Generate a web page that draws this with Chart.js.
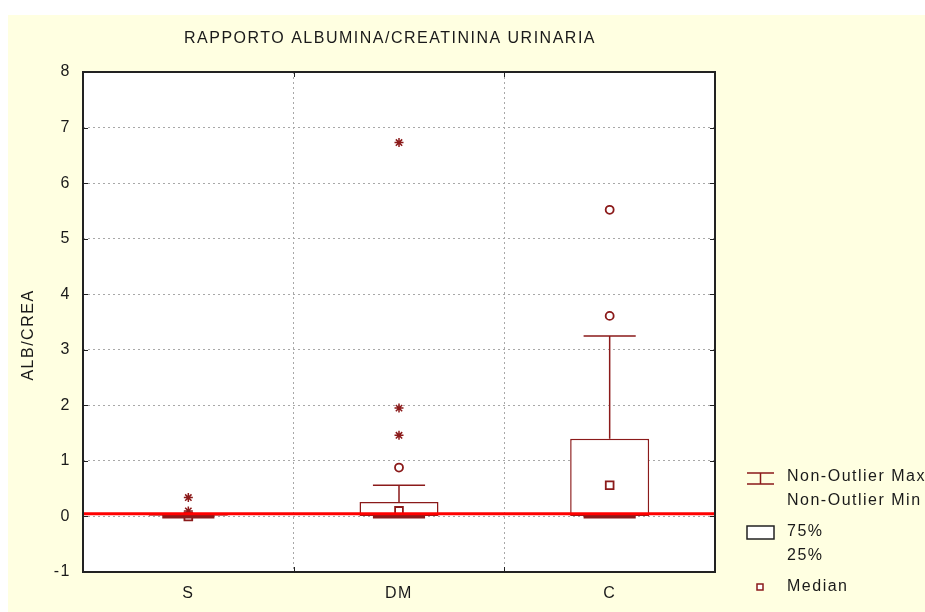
<!DOCTYPE html>
<html><head><meta charset="utf-8">
<script src="https://cdn.jsdelivr.net/npm/chart.js@4/dist/chart.umd.min.js"></script>
<style>html,body{margin:0;padding:0;background:#fff;} #wrap{width:925px;height:612px;}</style>
</head><body><div id="wrap"><canvas id="c" width="925" height="612"></canvas></div>
<script>
// ---- data ----
const chartTitle = 'RAPPORTO ALBUMINA/CREATININA URINARIA';
const yAxisTitle = 'ALB/CREA';
const categories = ['S', 'DM', 'C'];
const boxLow = [0, 0, 0];            // 25%
const boxHigh = [0.02, 0.26, 1.40];  // 75%
const medians = [0.0, 0.10, 0.56];
const whiskerLow = [0, 0, 0];        // non-outlier min
const whiskerHigh = [0.02, 0.56, 3.25]; // non-outlier max
const outlierCat = ['DM', 'C', 'C'];
const outlierVal = [0.88, 3.61, 5.52];
const extremeCat = ['S', 'S', 'DM', 'DM', 'DM'];
const extremeVal = [0.10, 0.34, 1.46, 1.95, 6.73];
const referenceLine = [0.05];
const yMin = -1, yMax = 8, yStep = 1;
const legendMax = 'Non-Outlier Max', legendMin = 'Non-Outlier Min';
const legendQ3 = '75%', legendQ1 = '25%', legendMedian = 'Median';

// ---- style ----
const FONT_FAMILY = '"Liberation Sans", Arial, sans-serif';
const FONT_SIZE = 16;
const FONT = FONT_SIZE + 'px ' + FONT_FAMILY;
const LS = '1.5px';
const DARK = '#8b1a1a';
const TEXT = '#1a1a1a';

Chart.defaults.font.family = FONT_FAMILY;
Chart.defaults.font.size = FONT_SIZE;
Chart.defaults.color = TEXT;

const setupPlugin = {
  id: 'setup',
  beforeUpdate(chart) { chart.ctx.letterSpacing = LS; },
  beforeLayout(chart) { chart.ctx.letterSpacing = LS; },
  beforeDraw(chart) {
    const { ctx, chartArea: a } = chart;
    ctx.save();
    ctx.fillStyle = '#ffffff';
    ctx.fillRect(0, 0, chart.width, chart.height);
    ctx.fillStyle = '#ffffe1';
    ctx.fillRect(8, 15, chart.width - 8, chart.height - 15);
    ctx.fillStyle = '#ffffff';
    ctx.fillRect(a.left, a.top, a.right - a.left, a.bottom - a.top);
    ctx.restore();
    ctx.letterSpacing = LS;
  }
};

const boxPlugin = {
  id: 'boxextras',
  afterDatasetsDraw(chart) {
    const { ctx, chartArea: a, scales: { x, y } } = chart;
    const boxMeta = chart.getDatasetMeta(0);
    ctx.save();
    ctx.strokeStyle = DARK;
    categories.forEach((c, i) => {
      const cx = x.getPixelForValue(i);
      const half = boxMeta.data[i].width * 0.33;
      const yq3 = y.getPixelForValue(boxHigh[i]);
      const yq1 = y.getPixelForValue(boxLow[i]);
      const yHi = y.getPixelForValue(whiskerHigh[i]);
      const yLo = y.getPixelForValue(whiskerLow[i]);
      ctx.lineWidth = 1.5;
      ctx.beginPath();
      ctx.moveTo(cx, yq3); ctx.lineTo(cx, yHi);
      ctx.moveTo(cx - half, yHi); ctx.lineTo(cx + half, yHi);
      ctx.moveTo(cx, yq1); ctx.lineTo(cx, yLo);
      ctx.stroke();
      ctx.lineWidth = 3;
      ctx.beginPath();
      ctx.moveTo(cx - half, yLo + 0.5); ctx.lineTo(cx + half, yLo + 0.5);
      ctx.stroke();
    });
    // reference line
    ctx.strokeStyle = '#ff0000';
    ctx.lineWidth = 3;
    const ry = y.getPixelForValue(referenceLine[0]);
    ctx.beginPath(); ctx.moveTo(a.left, ry); ctx.lineTo(a.right, ry); ctx.stroke();
    // frame
    ctx.strokeStyle = '#222';
    ctx.lineWidth = 2;
    ctx.strokeRect(a.left, a.top, a.right - a.left, a.bottom - a.top);
    // inner tick marks
    ctx.lineWidth = 1;
    ctx.beginPath();
    y.ticks.forEach((t, i) => {
      const py = Math.round(y.getPixelForTick(i)) + 0.5;
      ctx.moveTo(a.left, py); ctx.lineTo(a.left + 5, py);
      ctx.moveTo(a.right - 5, py); ctx.lineTo(a.right, py);
    });
    for (let i = 0; i < categories.length - 1; i++) {
      const px = Math.round((x.getPixelForValue(i) + x.getPixelForValue(i + 1)) / 2) + 0.5;
      ctx.moveTo(px, a.top); ctx.lineTo(px, a.top + 5);
      ctx.moveTo(px, a.bottom - 5); ctx.lineTo(px, a.bottom);
    }
    ctx.stroke();
    ctx.restore();
  },
  afterDraw(chart) {
    const { ctx, chartArea: a } = chart;
    ctx.save();
    ctx.letterSpacing = LS;
    ctx.font = FONT;
    ctx.fillStyle = TEXT;
    ctx.textAlign = 'center';
    ctx.textBaseline = 'middle';
    // title
    ctx.fillText(chartTitle, (a.left + a.right) / 2 - 9, 38.5);
    // y title
    ctx.save();
    ctx.translate(29, 335);
    ctx.rotate(-Math.PI / 2);
    ctx.fillText(yAxisTitle, 0, 0);
    ctx.restore();
    // legend
    const lx = 747, tx = 787;
    ctx.strokeStyle = DARK;
    ctx.lineWidth = 1.5;
    ctx.beginPath();
    ctx.moveTo(lx, 473); ctx.lineTo(lx + 27, 473);
    ctx.moveTo(lx, 484); ctx.lineTo(lx + 27, 484);
    ctx.moveTo(lx + 13.5, 473); ctx.lineTo(lx + 13.5, 484);
    ctx.stroke();
    ctx.strokeStyle = '#222';
    ctx.fillStyle = '#fff';
    ctx.fillRect(lx, 526, 27, 13);
    ctx.strokeRect(lx, 526, 27, 13);
    ctx.strokeStyle = DARK;
    ctx.fillRect(757, 584, 6, 6);
    ctx.strokeRect(757, 584, 6, 6);
    ctx.fillStyle = TEXT;
    ctx.textAlign = 'left';
    ctx.fillText(legendMax, tx, 477);
    ctx.fillText(legendMin, tx, 501);
    ctx.fillText(legendQ3, tx, 532);
    ctx.fillText(legendQ1, tx, 556);
    ctx.fillText(legendMedian, tx, 587);
    ctx.restore();
  }
};

new Chart(document.getElementById('c'), {
  type: 'bar',
  data: {
    labels: categories,
    datasets: [
      {
        type: 'bar',
        data: categories.map((c, i) => [boxLow[i], boxHigh[i]]),
        backgroundColor: '#ffffff',
        borderColor: DARK,
        borderWidth: 1.5,
        borderSkipped: false,
        barPercentage: 0.375,
        categoryPercentage: 1,
        order: 4
      },
      {
        type: 'line',
        data: medians,
        showLine: false,
        pointStyle: 'rect',
        pointRadius: 5.5,
        pointBorderWidth: 1.8,
        borderColor: DARK,
        backgroundColor: '#ffffff',
        order: 3
      },
      {
        type: 'line',
        data: outlierCat.map((c, i) => ({ x: c, y: outlierVal[i] })),
        showLine: false,
        pointStyle: 'circle',
        pointRadius: 4,
        pointBorderWidth: 1.8,
        borderColor: DARK,
        backgroundColor: '#ffffff',
        order: 2
      },
      {
        type: 'line',
        data: extremeCat.map((c, i) => ({ x: c, y: extremeVal[i] })),
        showLine: false,
        pointStyle: 'star',
        pointRadius: 4.5,
        pointBorderWidth: 1.5,
        borderColor: DARK,
        backgroundColor: DARK,
        order: 1
      }
    ]
  },
  options: {
    responsive: false,
    animation: false,
    devicePixelRatio: 1,
    layout: { padding: { top: 72, right: 210, left: 0, bottom: 0 } },
    plugins: { legend: { display: false }, title: { display: false }, tooltip: { enabled: false } },
    scales: {
      x: {
        grid: { offset: true, color: '#a8a8a8', lineWidth: 1, drawTicks: false },
        border: { display: false, dash: [2, 3] },
        ticks: { padding: 12, color: TEXT },
        afterFit(s) { s.height = 40; }
      },
      y: {
        min: yMin, max: yMax,
        grid: { color: '#a8a8a8', lineWidth: 1, drawTicks: false },
        border: { display: false, dash: [2, 3] },
        ticks: { stepSize: yStep, padding: 12, color: TEXT },
        afterFit(s) { s.width = 83; }
      }
    }
  },
  plugins: [setupPlugin, boxPlugin]
});
</script>
</body></html>
